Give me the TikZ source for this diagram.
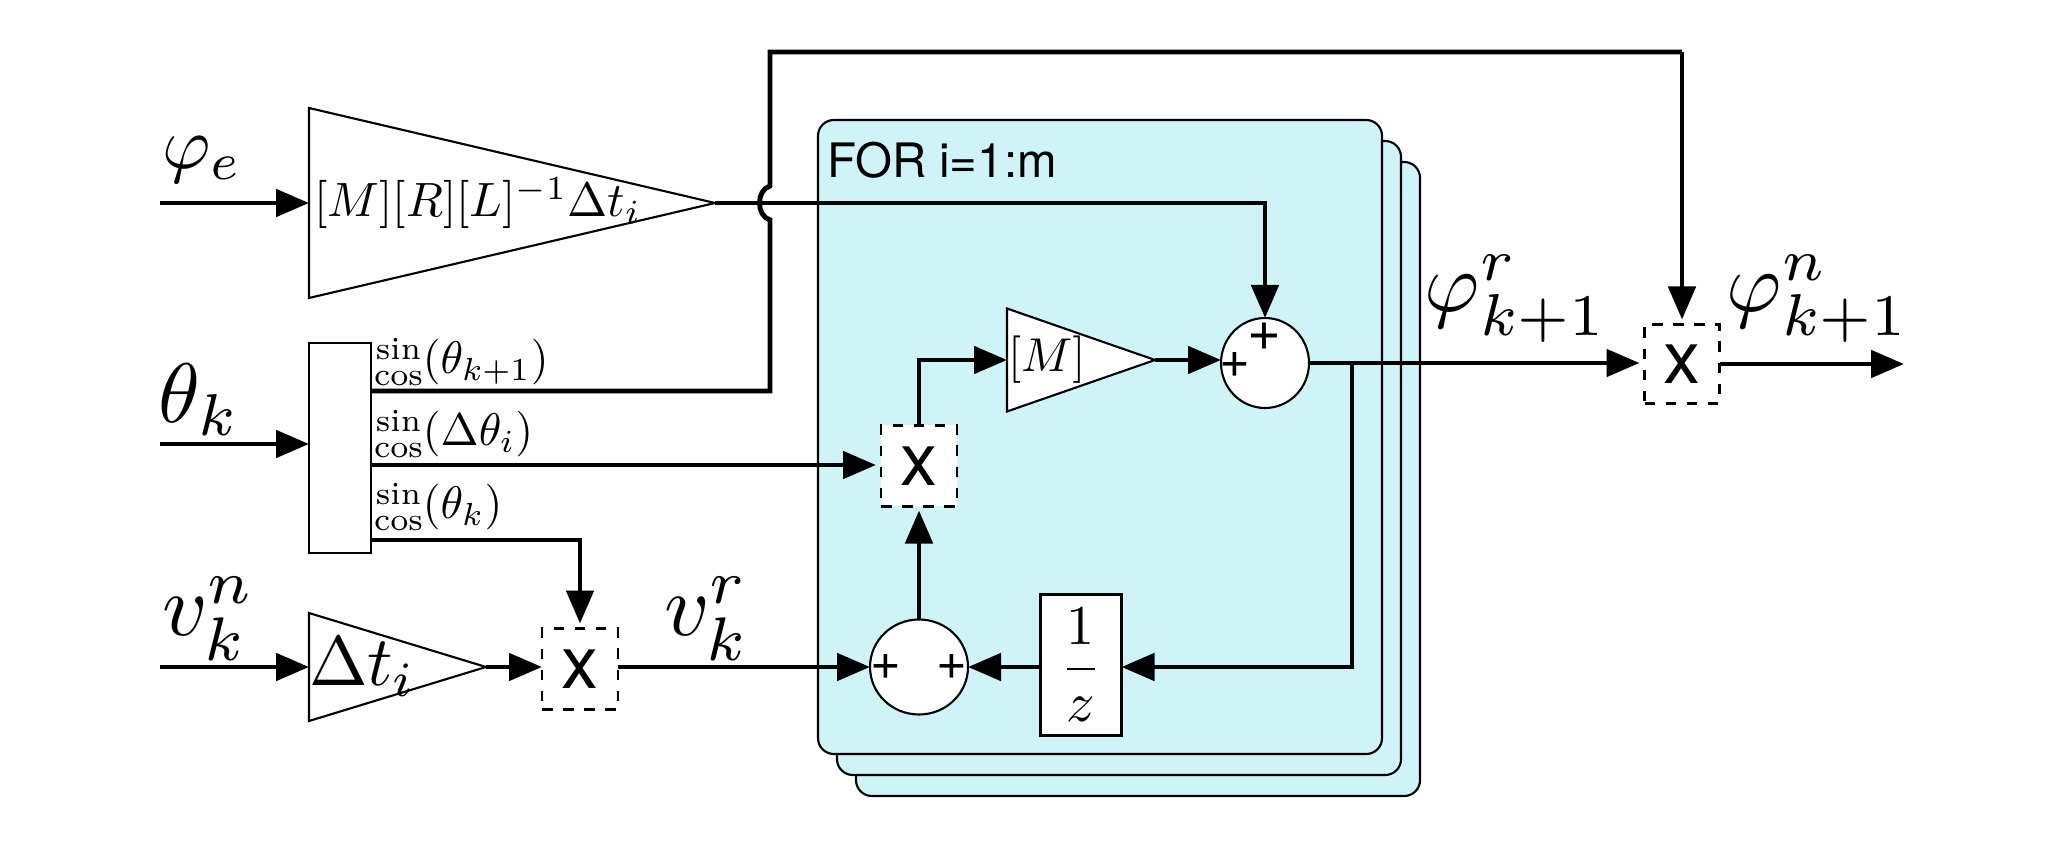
\documentclass[tikz,border=0pt]{standalone}
\usepackage{amsmath}
\usepackage{fontspec}
\setsansfont{TeX Gyre Heros}
\usetikzlibrary{arrows.meta, positioning, shapes.geometric}
\definecolor{panelblue}{HTML}{CEF4F8}

\begin{document}
\begin{tikzpicture}[
  every node/.style={outer sep=0pt},
  panel/.style={draw, line width=0.6pt, fill=panelblue, rounded corners=4.5pt,
                minimum width=5.64cm, minimum height=6.34cm},
  gain/.style={draw, line width=0.6pt, fill=white, isosceles triangle,
               isosceles triangle stretches, inner sep=0pt, anchor=lower side},
  mult/.style={draw, dashed, line width=0.6pt, fill=white, font=\sffamily,
               minimum width=0.76cm, minimum height=0.81cm, inner sep=0pt},
  xmark/.style={font=\sffamily, scale=2.1, inner sep=0pt},
  sumj/.style={draw, line width=0.6pt, fill=white, ellipse, inner sep=0pt},
  plus/.style={font=\sffamily, scale=1.5, inner sep=0pt},
  box/.style={draw, line width=0.6pt, fill=white, inner sep=0pt},
  lab/.style={inner sep=0pt, anchor=west},
  arr/.style={-{Triangle[length=3.3mm, width=2.7mm]}, line width=1.4pt},
  wire/.style={line width=1.4pt},
]
  \useasboundingbox (0, 0) rectangle (20.56, 8.60);

  \node[panel] (loopc) at (11.38, 3.81) {};
  \node[panel] (loopb) at (11.19, 4.02) {};
  \node[panel] (loopa) at (11.00, 4.23) {};
  \node[lab, font=\sffamily, scale=1.35] (fortxt) at (8.27, 7.00) {FOR i=1:m};

  % left column
  \coordinate (phiin) at (1.60, 6.57);
  \coordinate (thetain) at (1.60, 4.16);
  \coordinate (velin) at (1.60, 1.93);
  \node[scale=2.1] (philab) at (2.02, 7.00) {$\varphi_e$};
  \node[scale=2.4] (thetalab) at (1.99, 4.60) {$\theta_k$};
  \node[scale=2.5] (vellab) at (2.09, 2.41) {$v_k^n$};

  \node[gain, minimum width=1.90cm, minimum height=4.06cm] (gainphi) at (3.09, 6.57) {};
  \node[lab, scale=1.37] (gainphilab) at (3.14, 6.57) {$[M][R][L]^{-1}\Delta t_i$};
  \node[box, minimum width=0.62cm, minimum height=2.10cm] (trig) at (3.40, 4.12) {};
  \node[gain, minimum width=1.08cm, minimum height=1.77cm] (gaindt) at (3.09, 1.93) {};
  \node[lab, scale=2.0] (gaindtlab) at (3.09, 1.93) {$\Delta t_i$};

  \coordinate (trigA) at (3.71, 4.69);
  \coordinate (trigB) at (3.71, 3.95);
  \coordinate (trigC) at (3.71, 3.20);
  \node[lab, scale=1.3] (trigAlab) at (3.74, 4.98) {$\substack{\sin\\\cos}(\theta_{k+1})$};
  \node[lab, scale=1.3] (trigBlab) at (3.74, 4.26) {$\substack{\sin\\\cos}(\Delta\theta_i)$};
  \node[lab, scale=1.3] (trigClab) at (3.74, 3.53) {$\substack{\sin\\\cos}(\theta_k)$};

  \node[mult] (multv) at (5.80, 1.91) {};
  \node[xmark] at (multv) {x};
  \node[scale=2.5] (velrlab) at (7.07, 2.41) {$v_k^r$};

  % inside the loop
  \node[sumj, minimum width=0.98cm, minimum height=0.95cm] (sumv) at (9.19, 1.93) {};
  \node[plus] at (8.86, 1.93) {+};
  \node[plus] at (9.52, 1.93) {+};
  \node[box, minimum width=0.81cm, minimum height=1.41cm] (delay) at (10.81, 1.95) {};
  \node[scale=1.6] at (delay) {$\dfrac{1}{z}$};
  \node[mult] (multr) at (9.19, 3.94) {};
  \node[xmark] at (multr) {x};
  \node[gain, minimum width=1.03cm, minimum height=1.48cm] (gainm) at (10.07, 5.00) {};
  \node[lab, scale=1.35] (gainmlab) at (10.08, 5.00) {$[M]$};
  \node[sumj, minimum width=0.88cm, minimum height=0.90cm] (sumphi) at (12.65, 4.97) {};
  \node[plus, scale=1.1] at (12.64, 5.23) {+};
  \node[plus] at (12.35, 4.95) {+};

  % output
  \node[mult, minimum width=0.75cm, minimum height=0.79cm] (multn) at (16.82, 4.96) {};
  \node[xmark] at (multn) {x};
  \coordinate (out) at (19.04, 4.96);
  \node[scale=2.4] (phirlab) at (15.16, 5.61) {$\varphi_{k+1}^r$};
  \node[scale=2.4] (phinlab) at (18.18, 5.61) {$\varphi_{k+1}^n$};

  \coordinate (tapfb) at (13.52, 4.97);

  \draw[arr] (phiin) -- (gainphi.lower side);
  \draw[arr] (thetain) -- (trig.west |- thetain);
  \draw[arr] (velin) -- (gaindt.lower side);
  \draw[arr] (gaindt.apex) -- (multv.west |- gaindt.apex);
  \draw[arr, shorten >=0.5mm] (trigC) -| (multv.north);
  \draw[arr, shorten >=0.5mm] (trigB) -- (trigB -| multr.west);
  \draw[arr] (multv.east |- sumv.west) -- (sumv.west);
  \draw[arr, shorten >=0.4mm] (sumv.north) -- (multr.south);
  \draw[arr] (multr.north) |- (gainm.lower side);
  \draw[arr] (gainm.apex) -- (sumphi.west |- gainm.apex);
  \draw[arr] (gainphi.apex) -| (sumphi.north);
  \draw[arr, shorten >=0.5mm] (sumphi.east) -- (multn.west |- sumphi.east);
  \draw[arr] (multn.east) -- (out);
  \draw[arr] (tapfb) |- (delay.east |- sumv.east);
  \draw[arr] (delay.west |- sumv.east) -- (sumv.east);
  \draw[wire] (trigA) -- (7.70, 4.69) -- (7.70, 6.40)
    .. controls (7.56, 6.44) and (7.56, 6.70) .. (7.70, 6.74) -- (7.70, 8.08) -- (16.82, 8.08);
  \draw[arr, shorten >=0.5mm] (16.82, 8.08) -- (multn.north);
\end{tikzpicture}
\end{document}
